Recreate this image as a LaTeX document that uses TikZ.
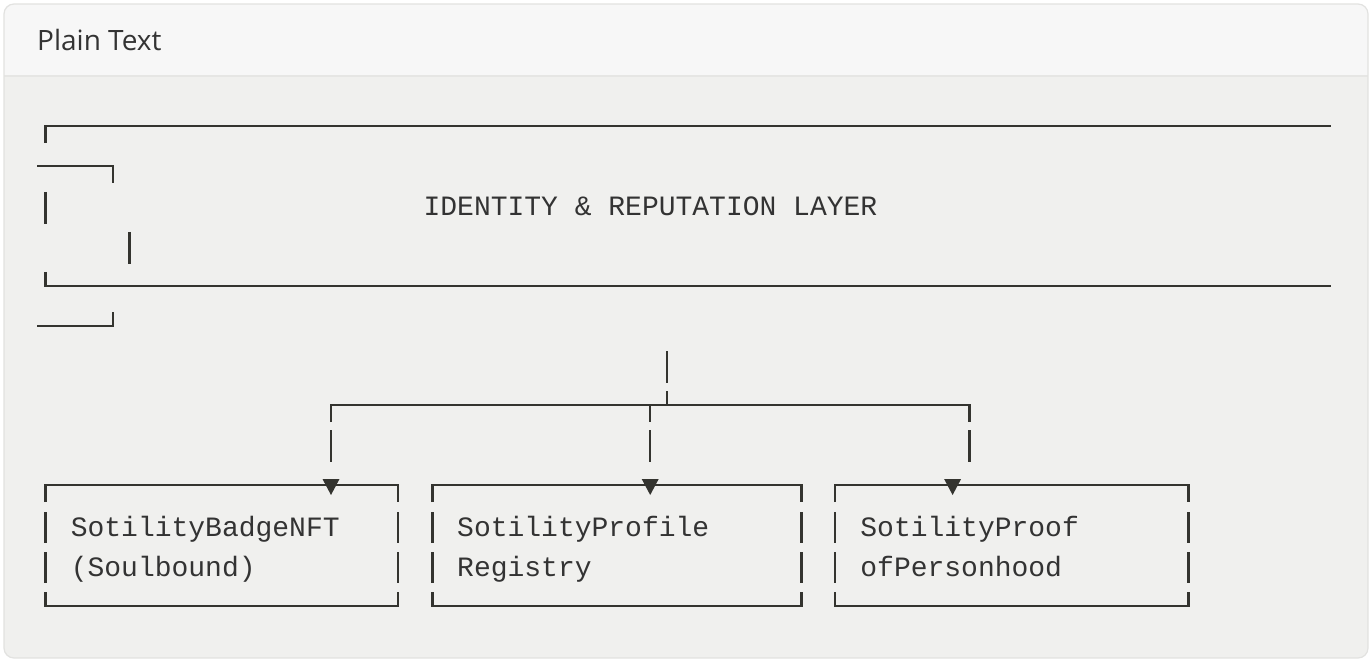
\documentclass[tikz,border=0pt]{standalone}
\usepackage{fontspec}
\setmainfont{Open Sans}
\newfontfamily\codefont{Liberation Mono}
\definecolor{bodybg}{HTML}{F0F0EE}
\definecolor{headbg}{HTML}{F7F7F7}
\definecolor{sepcol}{HTML}{E6E6E4}
\definecolor{cardborder}{HTML}{E2E2E0}
\definecolor{inkcol}{HTML}{34342F}
\definecolor{txtcol}{HTML}{333333}
\tikzset{
  ln/.style={draw=inkcol, line width=2.2pt, line join=miter},
  tip/.style={fill=inkcol, draw=none},
  code/.style={anchor=base west, inner sep=0pt, text=txtcol, font=\codefont\fontsize{28}{28}\selectfont},
  title/.style={anchor=base west, inner sep=0pt, text=txtcol, font=\fontsize{28}{28}\selectfont}
}
\begin{document}
\begin{tikzpicture}[x=1pt,y=-1pt]
\useasboundingbox (0,0) rectangle (1370,660);
\fill[white] (0,0) rectangle (1370,660);
\begin{scope}
  \clip[rounded corners=10pt] (4,4) rectangle (1368,658);
  \fill[bodybg] (4,4) rectangle (1368,658);
  \fill[headbg] (4,4) rectangle (1368,76);
  \draw[sepcol, line width=1.5pt] (4,76) -- (1368,76);
\end{scope}
\draw[cardborder, line width=1.2pt, rounded corners=10pt] (4,4) rectangle (1368,658);
\node[title] (hdr) at (37,51) {Plain Text};

% ---- identity layer box (wrapped) ----
\draw[ln] (45.4,143) -- (45.4,126) -- (1330.6,126);
\draw[ln] (37,166) -- (112.6,166) -- (112.6,183);
\draw[ln] (45.4,192) -- (45.4,224);
\node[code] (layer) at (423.4,216) {IDENTITY \& REPUTATION LAYER};
\draw[ln] (129.4,232) -- (129.4,264);
\draw[ln] (45.4,272) -- (45.4,286) -- (1330.6,286);
\draw[ln] (37,326) -- (112.6,326) -- (112.6,312);

% ---- branch ----
\coordinate (s1) at (667,351);
\coordinate (s2) at (667,383);
\coordinate (up) at (667,391);
\coordinate (bj) at (667,405);
\draw[ln] (s1) -- (s2);
\draw[ln] (up) -- (bj);
\draw[ln] (331,422) -- (331,405) -- (969.4,405) -- (969.4,422);
\draw[ln] (650.2,405) -- (650.2,422);
\draw[ln] (331,430) -- (331,462);
\draw[ln] (650.2,430) -- (650.2,462);
\draw[ln] (969.4,430) -- (969.4,462);

% ---- boxes ----
% box 1: cells 0..21
\draw[ln] (45.4,502) -- (45.4,485) -- (398.2,485) -- (398.2,502);
\draw[ln] (45.4,512) -- (45.4,543); \draw[ln] (398.2,512) -- (398.2,543);
\draw[ln] (45.4,552) -- (45.4,583); \draw[ln] (398.2,552) -- (398.2,583);
\draw[ln] (45.4,592) -- (45.4,606) -- (398.2,606) -- (398.2,592);
\fill[tip] (322.5,479) -- (339.5,479) -- (331,495) -- cycle;
\node[code] (b1a) at (70.6,536) {SotilityBadgeNFT};
\node[code] (b1b) at (70.6,576) {(Soulbound)};

% box 2: cells 23..45
\draw[ln] (432.4,502) -- (432.4,485) -- (801.4,485) -- (801.4,502);
\draw[ln] (432.4,512) -- (432.4,543); \draw[ln] (801.4,512) -- (801.4,543);
\draw[ln] (432.4,552) -- (432.4,583); \draw[ln] (801.4,552) -- (801.4,583);
\draw[ln] (432.4,592) -- (432.4,606) -- (801.4,606) -- (801.4,592);
\fill[tip] (641.7,479) -- (658.7,479) -- (650.2,495) -- cycle;
\node[code] (b2a) at (457,536) {SotilityProfile};
\node[code] (b2b) at (457,576) {Registry};

% box 3: cells 47..68
\draw[ln] (835,502) -- (835,485) -- (1188.4,485) -- (1188.4,502);
\draw[ln] (835,512) -- (835,543); \draw[ln] (1188.4,512) -- (1188.4,543);
\draw[ln] (835,552) -- (835,583); \draw[ln] (1188.4,552) -- (1188.4,583);
\draw[ln] (835,592) -- (835,606) -- (1188.4,606) -- (1188.4,592);
\fill[tip] (944.1,479) -- (961.1,479) -- (952.6,495) -- cycle;
\node[code] (b3a) at (860.2,536) {SotilityProof};
\node[code] (b3b) at (860.2,576) {ofPersonhood};
\end{tikzpicture}
\end{document}
